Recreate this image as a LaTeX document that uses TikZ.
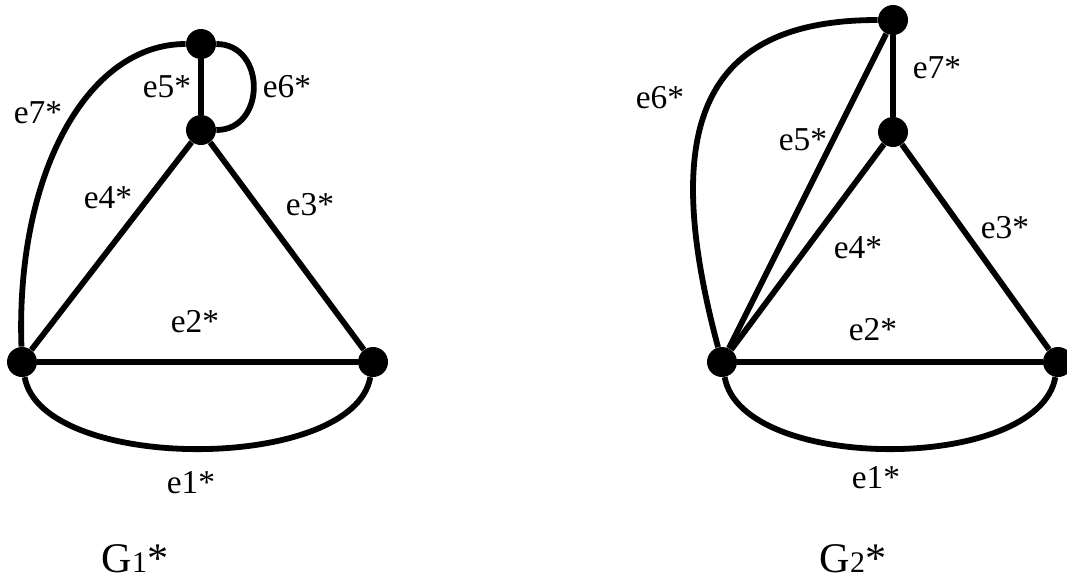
\documentclass[tikz,border=0pt]{standalone}
\usepackage{fontspec}
\setmainfont{Liberation Serif}
\usepackage{tikz}

\begin{document}
\begin{tikzpicture}[
  x=0.02cm, y=-0.02cm,
  dot/.style={circle, fill=black, draw=none, minimum size=0.6cm, inner sep=0pt},
  lbl/.style={font=\fontsize{19}{19}\selectfont, inner sep=1pt},
  title/.style={font=\fontsize{24}{24}\selectfont, inner sep=0pt, anchor=base},
  edge/.style={line width=3.3pt}
]
\useasboundingbox (0,0) rectangle (1067,582);
\node[dot] (t1) at (201,44) {};
\node[dot] (m1) at (201,130) {};
\node[dot] (a1) at (22,362) {};
\node[dot] (b1) at (373,362) {};
\draw[edge] (t1) -- (m1);
\draw[edge] (t1) to[out=0, in=0, out distance=1cm, in distance=1cm] (m1);
\draw[edge] (t1) to[out=180, in=92, out distance=2cm, in distance=3.4cm] (a1);
\draw[edge] (m1) -- (a1);
\draw[edge] (m1) -- (b1);
\draw[edge] (a1) -- (b1);
\draw[edge] (a1) to[out=-80, in=-100, out distance=1.95cm, in distance=1.95cm] (b1);
\node[lbl] at (38,113) {e7*};
\node[lbl] at (167,87) {e5*};
\node[lbl] at (287,87) {e6*};
\node[lbl] at (108,198) {e4*};
\node[lbl] at (310,205) {e3*};
\node[lbl] at (195,322) {e2*};
\node[lbl] at (191,483) {e1*};
\node[title] (g1) at (135,572) {G{\fontsize{17}{17}\selectfont 1}*};

\node[dot] (t2) at (893,20) {};
\node[dot] (m2) at (893,132) {};
\node[dot] (a2) at (722,362) {};
\node[dot] (b2) at (1058,362) {};
\draw[edge] (t2) -- (m2);
\draw[edge] (t2) -- (a2);
\draw[edge] (t2) to[out=180, in=105, out distance=3.5cm, in distance=4.6cm] (a2);
\draw[edge] (m2) -- (a2);
\draw[edge] (m2) -- (b2);
\draw[edge] (a2) -- (b2);
\draw[edge] (a2) to[out=-80, in=-100, out distance=1.95cm, in distance=1.95cm] (b2);
\node[lbl] at (937,68) {e7*};
\node[lbl] at (660,98) {e6*};
\node[lbl] at (803,140) {e5*};
\node[lbl] at (858,248) {e4*};
\node[lbl] at (1005,228) {e3*};
\node[lbl] at (873,330) {e2*};
\node[lbl] at (876,478) {e1*};
\node[title] (g2) at (853,572) {G{\fontsize{17}{17}\selectfont 2}*};
\end{tikzpicture}
\end{document}
